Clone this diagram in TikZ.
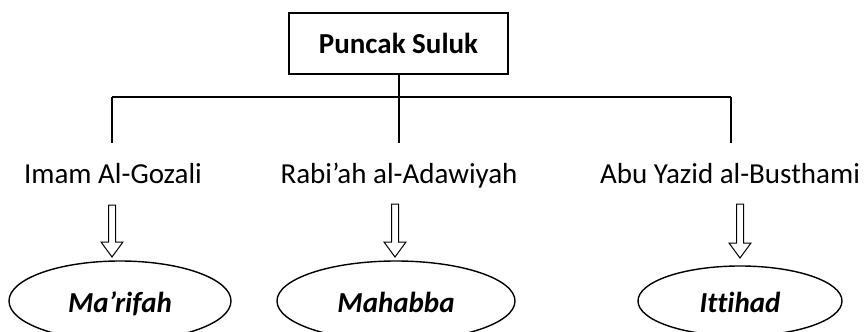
\documentclass[tikz,border=0pt]{standalone}
\usepackage{fontspec}
\setmainfont[Ligatures={NoCommon}]{Carlito}
\usetikzlibrary{shapes.geometric,calc}
\tikzset{
  conn/.style={line width=1.3pt},
  topbox/.style={draw, line width=1.5pt, minimum width=219pt, minimum height=61pt, inner sep=0pt, font=\fontsize{29}{34}\selectfont\bfseries},
  personlabel/.style={anchor=base, inner sep=0pt, font=\fontsize{29}{34}\selectfont},
  goalshape/.style={draw, ellipse, line width=1.4pt, inner sep=0pt, text height=22pt, text depth=0pt, font=\fontsize{29}{34}\selectfont\bfseries\itshape},
  blockarrow/.style={draw, line width=1pt, fill=white, line join=miter},
}
\newcommand{\hollowarrow}[2]{% #1 top coordinate, #2 tip coordinate
  \draw[blockarrow] ($(#1)+(-3.5,0)$) -- ($(#1)+(3.5,0)$) -- ($(#2)+(3.5,-15)$) -- ($(#2)+(11,-15)$) -- (#2) -- ($(#2)+(-11,-15)$) -- ($(#2)+(-3.5,-15)$) -- cycle;
}
\begin{document}
\begin{tikzpicture}[x=1pt,y=-1pt]
\useasboundingbox (0,0) rectangle (865,332);
% top box
\node[topbox] (top) at (398.5,43.5) {Puncak Suluk};
% junction coordinates
\coordinate (j0) at (399,97);
\coordinate (jl) at (112,97);
\coordinate (jr) at (731,97);
\coordinate (el) at (112,143);
\coordinate (em) at (399,143);
\coordinate (er) at (731,143);
\draw[conn] (top.south -| j0) -- (em);
\draw[conn] (jl) -- (jr);
\draw[conn] (jl) -- (el);
\draw[conn] (jr) -- (er);
% names
\node[personlabel] (n1) at (113,183) {Imam Al-Gozali};
\node[personlabel] (n2) at (399,183) {Rabi’ah al-Adawiyah};
\node[personlabel] (n3) at (730,183) {Abu Yazid al-Busthami};
% goals
\node[goalshape, minimum width=222pt, minimum height=80pt] (g1) at (120,301) {Ma’rifah};
\node[goalshape, minimum width=238pt, minimum height=80pt] (g2) at (396,301) {Mahabba};
\node[goalshape, minimum width=204pt, minimum height=70pt] (g3) at (740,301) {Ittihad};
% arrows
\coordinate (a1s) at (112,205); \coordinate (a1t) at (112,257);
\coordinate (a2s) at (395,204); \coordinate (a2t) at (395,257);
\coordinate (a3s) at (740,204); \coordinate (a3t) at (740,258);
\hollowarrow{a1s}{a1t}
\hollowarrow{a2s}{a2t}
\hollowarrow{a3s}{a3t}
\end{tikzpicture}
\end{document}
